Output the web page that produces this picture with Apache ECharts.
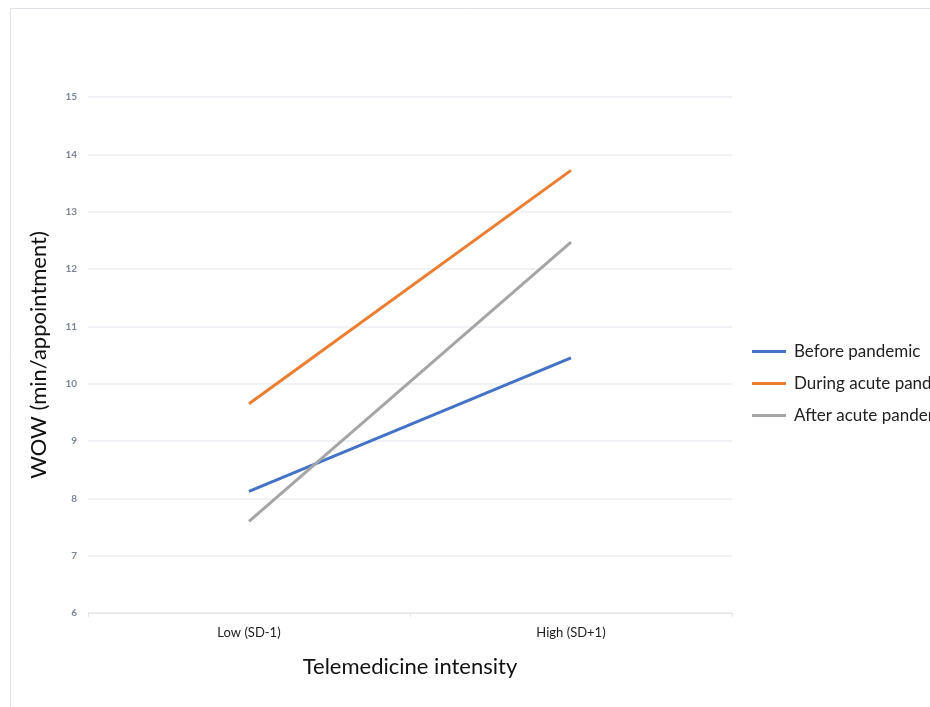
<!DOCTYPE html>
<html><head><meta charset="utf-8">
<script src="https://cdn.jsdelivr.net/npm/echarts@6/dist/echarts.min.js"></script>
<style>html,body{margin:0;padding:0;background:#fff}#c{width:930px;height:707px}</style>
</head><body><div id="c"></div>
<script>
const categories = ['Low (SD-1)', 'High (SD+1)'];
const seriesNames = ['Before pandemic', 'During acute pandemic', 'After acute pandemic'];
const beforePandemic = [8.12, 10.45];
const duringAcute = [9.65, 13.72];
const afterAcute = [7.6, 12.47];
const colors = ['#4472C4', '#ED7D31', '#A5A5A5'];

const chart = echarts.init(document.getElementById('c'));
const font = 'Lato, "Open Sans", sans-serif';
chart.setOption({
  animation: false,
  textStyle: { fontFamily: font },
  graphic: [
    { type: 'polyline', shape: { points: [[10.5, 707], [10.5, 8.5], [930, 8.5]] },
      style: { stroke: '#dfe1e8', lineWidth: 1, fill: null } }
  ],
  grid: { left: 88, right: 198, top: 97, bottom: 94 },
  xAxis: {
    type: 'category', data: categories, boundaryGap: true,
    name: 'Telemedicine intensity', nameLocation: 'middle', nameGap: 43,
    nameTextStyle: { fontSize: 22, color: '#111', fontFamily: font },
    axisLine: { lineStyle: { color: '#e3e5ec', width: 1 } },
    axisTick: { show: true, alignWithLabel: false, lineStyle: { color: '#e3e5ec' }, length: 4 },
    axisLabel: { color: '#222', fontSize: 13, margin: 13 }
  },
  yAxis: {
    type: 'value', min: 6, max: 15, interval: 1,
    name: 'WOW (min/appointment)', nameLocation: 'middle', nameGap: 38,
    nameTextStyle: { fontSize: 22, color: '#111', fontFamily: font },
    axisLine: { show: false }, axisTick: { show: false },
    axisLabel: { color: '#7a8599', fontSize: 10, margin: 11, fontWeight: 'bold' },
    splitLine: { lineStyle: { color: '#eceef3', width: 1.5 } }
  },
  legend: {
    orient: 'vertical', left: 747, top: 338, itemGap: 15,
    itemWidth: 34, itemHeight: 3, icon: 'rect',
    textStyle: { fontSize: 17, color: '#222', padding: [0, 0, 0, 3] },
    data: seriesNames
  },
  color: colors,
  series: [
    { name: seriesNames[0], type: 'line', data: beforePandemic, showSymbol: false, lineStyle: { width: 3 } },
    { name: seriesNames[1], type: 'line', data: duringAcute, showSymbol: false, lineStyle: { width: 3 } },
    { name: seriesNames[2], type: 'line', data: afterAcute, showSymbol: false, lineStyle: { width: 3 } }
  ]
});
</script></body></html>
